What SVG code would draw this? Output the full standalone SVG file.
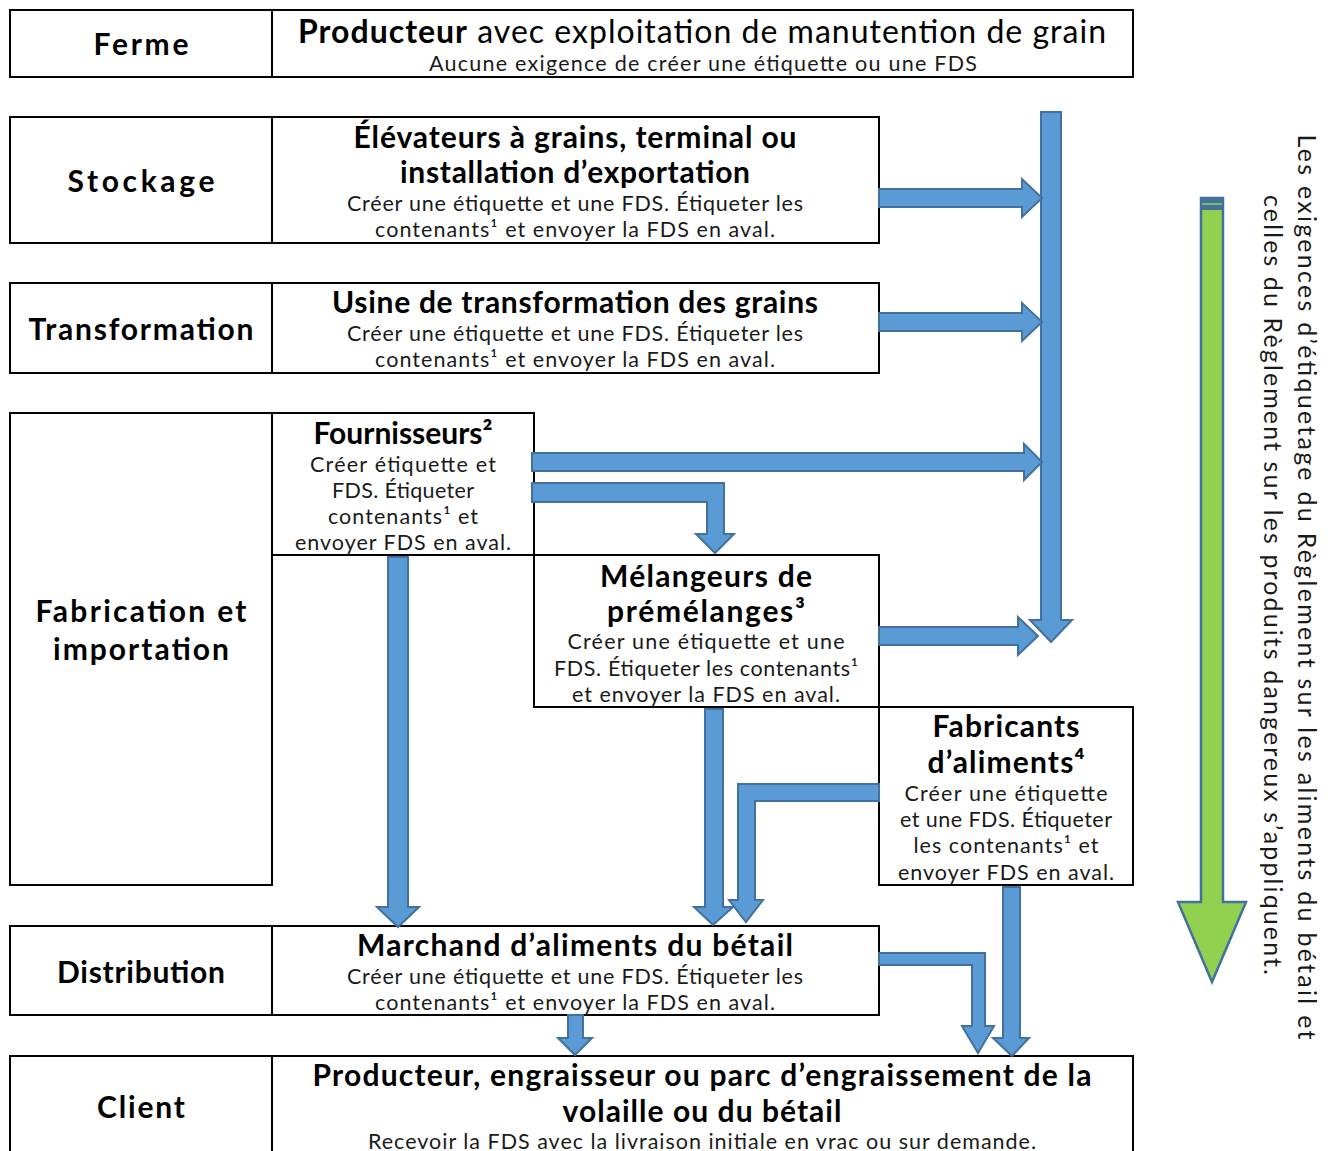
<svg xmlns="http://www.w3.org/2000/svg" width="1333" height="1151" viewBox="0 0 1333 1151">
<style>
.box{fill:#fff;stroke:#000;stroke-width:2}
.h{font-family:Lato,"Liberation Sans",sans-serif;font-weight:bold;font-size:30px;fill:#000;text-anchor:middle}
.s{font-family:Lato,"Liberation Sans",sans-serif;font-size:21.5px;fill:#1a1a1a;text-anchor:middle}
.r{font-family:Lato,"Liberation Sans",sans-serif;font-size:25px;fill:#1a1a1a;text-anchor:middle}
.arr{fill:#5B9BD5;stroke:#41719C;stroke-width:2;stroke-linejoin:miter}
.garr{fill:#92D050;stroke:#41719C;stroke-width:2.5}
</style>
<rect width="1333" height="1151" fill="#fff"/>

<g id="ferme">
<rect class="box" x="10" y="10" width="1123" height="67"/>
<line x1="272" y1="10" x2="272" y2="77" stroke="#000" stroke-width="2"/>
<text class="h" x="141" y="55" textLength="95">Ferme</text>
<text class="h" x="702" y="43" style="font-weight:normal;font-size:32px" textLength="808"><tspan font-weight="bold">Producteur</tspan> avec exploitation de manutention de grain</text>
<text class="s" x="703" y="71" textLength="548">Aucune exigence de créer une étiquette ou une FDS</text>
</g>

<g id="stockage">
<rect class="box" x="10" y="117" width="262" height="126"/>
<text class="h" x="141" y="192" textLength="147">Stockage</text>
</g>
<g id="elevateurs">
<rect class="box" x="272" y="117" width="607" height="126"/>
<text class="h" x="575" y="148" textLength="443">Élévateurs à grains, terminal ou</text>
<text class="h" x="575" y="183" textLength="350">installation d’exportation</text>
<text class="s" x="575" y="211" textLength="456">Créer une étiquette et une FDS. Étiqueter les</text>
<text class="s" x="575" y="237" textLength="400">contenants¹ et envoyer la FDS en aval.</text>
</g>

<g id="transformation">
<rect class="box" x="10" y="283" width="262" height="90"/>
<text class="h" x="141" y="340" textLength="225">Transformation</text>
</g>
<g id="usine">
<rect class="box" x="272" y="283" width="607" height="90"/>
<text class="h" x="575" y="313" textLength="486">Usine de transformation des grains</text>
<text class="s" x="575" y="341" textLength="456">Créer une étiquette et une FDS. Étiqueter les</text>
<text class="s" x="575" y="367" textLength="400">contenants¹ et envoyer la FDS en aval.</text>
</g>

<g id="fabrication">
<rect class="box" x="10" y="413" width="262" height="472"/>
<text class="h" x="141" y="622" textLength="211">Fabrication et</text>
<text class="h" x="141" y="660" textLength="176">importation</text>
</g>
<g id="fournisseurs">
<rect class="box" x="272" y="413" width="262" height="142"/>
<text class="h" x="403" y="444" textLength="179">Fournisseurs²</text>
<text class="s" x="403" y="472" textLength="186">Créer étiquette et</text>
<text class="s" x="403" y="498" textLength="142">FDS. Étiqueter</text>
<text class="s" x="403" y="524" textLength="150">contenants¹ et</text>
<text class="s" x="403" y="550" textLength="216">envoyer FDS en aval.</text>
</g>
<g id="melangeurs">
<rect class="box" x="534" y="555" width="345" height="152"/>
<text class="h" x="706" y="587" textLength="212">Mélangeurs de</text>
<text class="h" x="706" y="622" textLength="198">prémélanges³</text>
<text class="s" x="706" y="649" textLength="277">Créer une étiquette et une</text>
<text class="s" x="706" y="676" textLength="304">FDS. Étiqueter les contenants¹</text>
<text class="s" x="706" y="702" textLength="268">et envoyer la FDS en aval.</text>
</g>
<g id="fabricants">
<rect class="box" x="879" y="707" width="254" height="178"/>
<text class="h" x="1006" y="737" textLength="147">Fabricants</text>
<text class="h" x="1006" y="773" textLength="157">d’aliments⁴</text>
<text class="s" x="1006" y="801" textLength="203">Créer une étiquette</text>
<text class="s" x="1006" y="827" textLength="212">et une FDS. Étiqueter</text>
<text class="s" x="1006" y="853" textLength="185">les contenants¹ et</text>
<text class="s" x="1006" y="880" textLength="216">envoyer FDS en aval.</text>
</g>

<g id="distribution">
<rect class="box" x="10" y="926" width="262" height="89"/>
<text class="h" x="141" y="983" textLength="168">Distribution</text>
</g>
<g id="marchand">
<rect class="box" x="272" y="926" width="607" height="89"/>
<text class="h" x="575" y="956" textLength="436">Marchand d’aliments du bétail</text>
<text class="s" x="575" y="984" textLength="456">Créer une étiquette et une FDS. Étiqueter les</text>
<text class="s" x="575" y="1010" textLength="400">contenants¹ et envoyer la FDS en aval.</text>
</g>

<g id="client">
<rect class="box" x="10" y="1056" width="262" height="110"/>
<text class="h" x="141" y="1118" textLength="88">Client</text>
</g>
<g id="producteur">
<rect class="box" x="272" y="1056" width="861" height="110"/>
<text class="h" x="702" y="1086" textLength="779">Producteur, engraisseur ou parc d’engraissement de la</text>
<text class="h" x="702" y="1122" textLength="279">volaille ou du bétail</text>
<text class="s" x="702" y="1149" textLength="668">Recevoir la FDS avec la livraison initiale en vrac ou sur demande.</text>
</g>

<g id="connectors">
<polygon class="arr" points="1041,112 1061,112 1061,620 1072,620 1051,642 1030,620 1041,620"/>
<polygon class="arr" points="879,189 1022,189 1022,179 1042,198 1022,217 1022,207 879,207"/>
<polygon class="arr" points="879,313 1022,313 1022,303 1042,322 1022,341 1022,331 879,331"/>
<polygon class="arr" points="532,453 1024,453 1024,444 1042,462 1024,480 1024,471 532,471"/>
<polygon class="arr" points="879,627 1018,627 1018,617 1038,636 1018,655 1018,645 879,645"/>
<polygon class="arr" points="532,483 724,483 724,534 734,534 715,553 696,534 707,534 707,502 532,502"/>
<polygon class="arr" points="388,557 408,557 408,907 419,907 398,927 377,907 388,907"/>
<polygon class="arr" points="705,709 723,709 723,907 733,907 713,925 694,907 705,907"/>
<polygon class="arr" points="879,784 738,784 738,900 729,900 746,922 763,900 755,900 755,801 879,801"/>
<polygon class="arr" points="1003,887 1020,887 1020,1038 1029,1038 1012,1056 993,1038 1003,1038"/>
<polygon class="arr" points="879,953 985,953 985,1026 994,1026 978,1053 962,1026 972,1026 972,965 879,965"/>
<polygon class="arr" points="568,1015 583,1015 583,1038 592,1038 575,1055 558,1038 568,1038"/>
</g>

<g id="scope-arrow">
<polygon class="garr" points="1201,198 1223,198 1223,902 1246,902 1212,982 1178,902 1201,902"/>
<rect x="1200" y="197" width="24" height="13" fill="#41719C"/>
<line x1="1202" y1="204" x2="1222" y2="204" stroke="#92D050" stroke-width="1.5"/>
</g>
<g id="note">
<text class="r" transform="translate(1298,587) rotate(90)" textLength="905">Les exigences d’étiquetage du Règlement sur les aliments du bétail et</text>
<text class="r" transform="translate(1264,585) rotate(90)" textLength="780">celles du Règlement sur les produits dangereux s’appliquent.</text>
</g>
</svg>
